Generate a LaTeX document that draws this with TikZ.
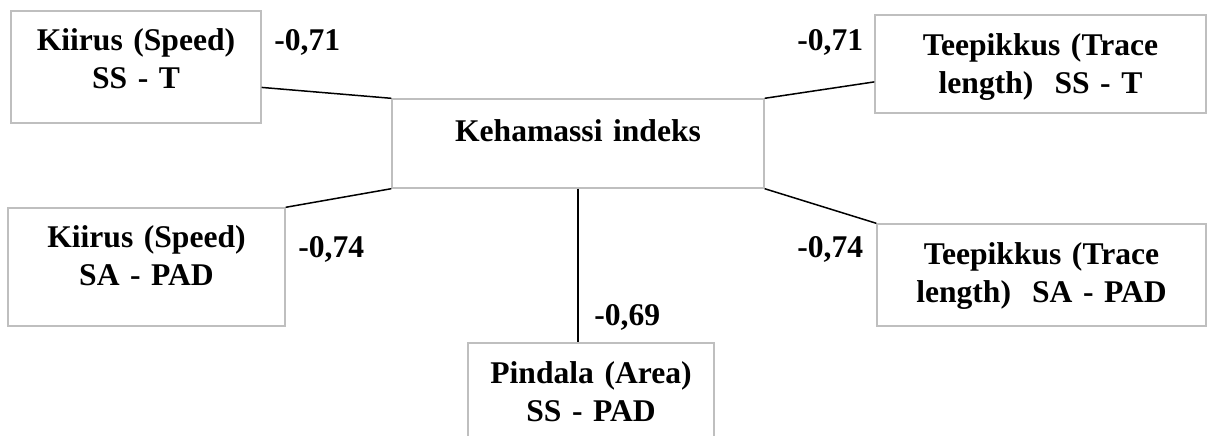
\documentclass[tikz,border=0pt]{standalone}
\usepackage{fontspec}
\setmainfont{Liberation Serif}
\usepackage{tikz}
\usetikzlibrary{calc}
\definecolor{boxline}{HTML}{BFBFBF}
\tikzset{
  kbox/.style={draw=boxline,line width=0.7pt,align=center,inner sep=0pt,anchor=base},
  kline/.style={line width=0.75pt,draw=black},
  kval/.style={inner sep=0pt,anchor=base west}
}

\begin{document}
\begin{tikzpicture}[x=0.5pt,y=-0.5pt,font=\fontsize{15.8pt}{19.2pt}\selectfont\bfseries]
  \useasboundingbox (0,0) rectangle (1209,435);
  % boxes
  \node[kbox,text width=125pt,text height=19.5pt,text depth=36.5pt] (kst) at (136,50) {Kiirus (Speed)\\SS - T};
  \node[kbox,text width=165.5pt,text height=20pt,text depth=29pt] (tst) at (1040.5,55) {Teepikkus (Trace\\length)~~SS - T};
  \node[kbox,text width=186pt,text height=21pt,text depth=23.5pt] (khi) at (578,141) {Kehamassi indeks};
  \node[kbox,text width=138.5pt,text height=19.5pt,text depth=39.5pt] (ksa) at (146.5,247) {Kiirus (Speed)\\SA - PAD};
  \node[kbox,text width=164.5pt,text height=20pt,text depth=31pt] (tsa) at (1041.5,264) {Teepikkus (Trace\\length)~~SA - PAD};
  \node[kbox,text width=123pt,text height=20pt,text depth=33.5pt] (psp) at (591,383) {Pindala (Area)\\SS - PAD};
  % links
  \draw[kline] ($(kst.north east)!0.68!(kst.south east)$) -- (khi.north west);
  \draw[kline] ($(tst.north west)!0.68!(tst.south west)$) -- (khi.north east);
  \draw[kline] (ksa.north east) -- (khi.south west);
  \draw[kline] (tsa.north west) -- (khi.south east);
  \draw[kline] (khi.south) -- (khi.south |- psp.north);
  % values
  \node[kval] (v1) at (274,50) {-0,71};
  \node[kval] (v2) at (797,50) {-0,71};
  \node[kval] (v3) at (298,257) {-0,74};
  \node[kval] (v4) at (797,257) {-0,74};
  \node[kval] (v5) at (594,325) {-0,69};
\end{tikzpicture}
\end{document}
